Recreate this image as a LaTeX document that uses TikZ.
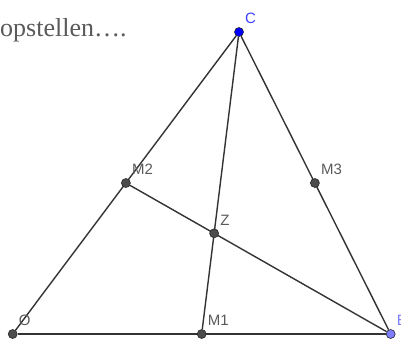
\documentclass[tikz,border=0pt]{standalone}
\usepackage{fontspec}
\setmainfont{Liberation Serif}
\newfontfamily\labelfont{Liberation Sans}
\definecolor{ggblue}{RGB}{0,0,255}
\definecolor{ggpaars}{RGB}{125,125,255}
\definecolor{ggtekst}{RGB}{90,90,90}
\usetikzlibrary{backgrounds}

\begin{document}
\begin{tikzpicture}[x=1pt,y=-1pt,
          punt/.style={
              circle,
              draw=black!85,
              fill=#1,
              line width=0.6pt,
              inner sep=0pt,
              minimum size=9pt
            },
          punt/.default=black!70,
          lbl/.style={
              anchor=south west,
              inner sep=0pt,
              xshift=6pt,
              yshift=8pt,
              text=ggtekst,
              font=\labelfont\fontsize{15}{15}\selectfont
            },
          zijde/.style={draw=black!80, line width=1.4pt}
        ]
        \useasboundingbox (0,0) rectangle (401,341);
        \node[anchor=base west, inner sep=0pt, text=ggtekst, font=\fontsize{26}{26}\selectfont] (tekst) at (0,36) {opstellen….};
        \node[punt] (O) at (12.7,334) {};
        \node[punt=ggpaars] (B) at (390.7,334) {};
        \node[punt=ggblue] (C) at (239,32) {};
        \node[punt] (M1) at (201.7,334) {};
        \node[punt] (M2) at (125.9,183) {};
        \node[punt] (M3) at (314.9,183) {};
        \node[punt] (Z) at (214.1,233.3) {};
        \begin{scope}[on background layer]
          \draw[zijde] (O) -- (B);
          \draw[zijde] (O) -- (C);
          \draw[zijde] (C) -- (B);
          \draw[zijde] (C) -- (M1);
          \draw[zijde] (M2) -- (B);
        \end{scope}
        \node[lbl] (lO) at (O) {O};
        \node[lbl, text=ggpaars] (lB) at (B) {B};
        \node[lbl, text=ggblue!75] (lC) at (C) {C};
        \node[lbl] (lM1) at (M1) {M1};
        \node[lbl] (lM2) at (M2) {M2};
        \node[lbl] (lM3) at (M3) {M3};
        \node[lbl] (lZ) at (Z) {Z};
      \end{tikzpicture}
\end{document}
